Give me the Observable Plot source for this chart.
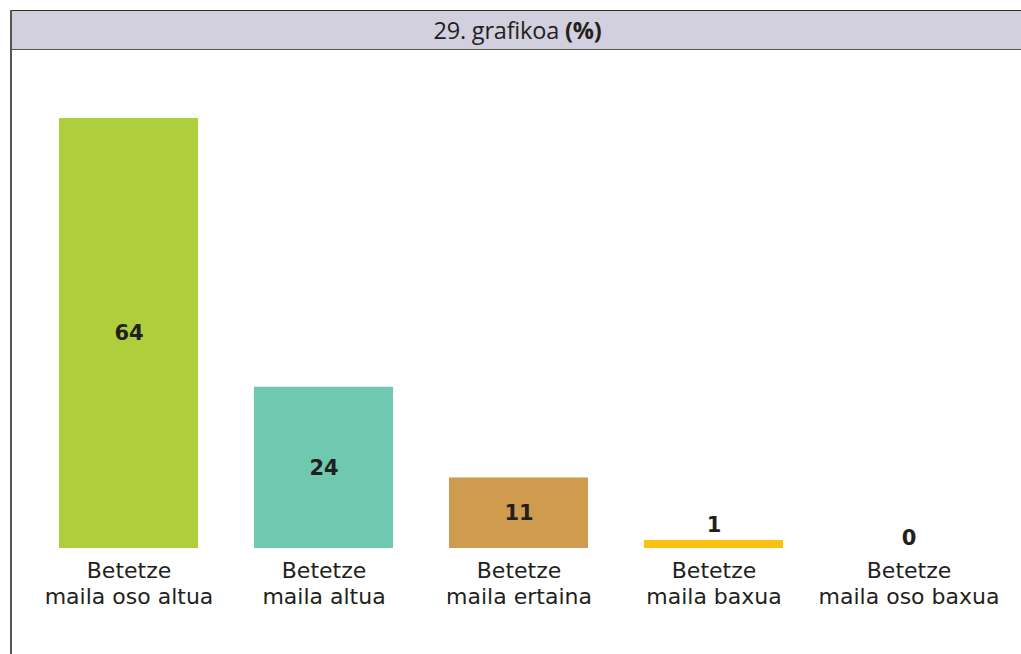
<!DOCTYPE html>
<html>
<head>
<meta charset="utf-8">
<script src="https://cdn.jsdelivr.net/npm/d3@7"></script>
<script src="https://cdn.jsdelivr.net/npm/@observablehq/plot@0.6"></script>
<style>
  html, body { margin: 0; padding: 0; background: #fff; width: 1021px; height: 654px; overflow: hidden; }
  #title {
    position: absolute; left: 10px; top: 10px; width: 1011px; height: 40px; box-sizing: border-box;
    background: #d2d0de; border-top: 1.5px solid #2e2e2e; border-bottom: 1.5px solid #555;
    display: flex; align-items: center; justify-content: center; padding-left: 4px;
    font-family: "Open Sans", sans-serif; font-size: 23.5px; color: #231f20; letter-spacing: -0.2px;
  }
  #title b { font-weight: 700; margin-left: 6px; }
  #leftline { position: absolute; left: 10px; top: 10px; height: 644px; width: 0; border-left: 2px solid #555; }
  #chart { position: absolute; left: 0; top: 50px; }
</style>
</head>
<body>
<div id="title"><span>29. grafikoa</span><b>(%)</b></div>
<div id="leftline"></div>
<div id="chart"></div>
<script>
const categories = ["Betetze maila oso altua", "Betetze maila altua", "Betetze maila ertaina", "Betetze maila baxua", "Betetze maila oso baxua"];
const categoryLines = ["Betetze\nmaila oso altua", "Betetze\nmaila altua", "Betetze\nmaila ertaina", "Betetze\nmaila baxua", "Betetze\nmaila oso baxua"];
const values = [64, 24, 10.5, 1.2, 0];
const valueLabels = ["64", "24", "11", "1", "0"];
const colors = ["#aecf3b", "#6fc8b0", "#cf9c4f", "#fcc010", "#cccccc"];

const data = categories.map((c, i) => ({cat: c, line: categoryLines[i], value: values[i], label: valueLabels[i]}));
const font = "'DejaVu Sans', 'Noto Sans', sans-serif";

const chart = Plot.plot({
  width: 1021,
  height: 604,
  marginTop: 0, marginBottom: 0, marginLeft: 0, marginRight: 0,
  style: {fontFamily: font, color: "#231f20", background: "transparent"},
  x: {domain: categories, range: [59, 979], paddingInner: 0.287, paddingOuter: 0, axis: null},
  y: {domain: [0, 64], range: [498, 68], axis: null},
  color: {domain: categories, range: colors},
  marks: [
    Plot.barY(data, {x: "cat", y: "value", fill: "cat"}),
    Plot.text(data.filter(d => d.value >= 5), {x: "cat", y: d => d.value / 2, text: "label", fontSize: 21, fontWeight: 700, fill: "#231f20"}),
    Plot.text(data.filter(d => d.value > 0 && d.value < 5), {x: "cat", y: "value", text: "label", fontSize: 21, fontWeight: 700, fill: "#231f20", dy: -15}),
    Plot.text(data.filter(d => d.value === 0), {x: "cat", y: "value", text: "label", fontSize: 21, fontWeight: 700, fill: "#231f20", dy: -10}),
    Plot.text(data, {x: "cat", y: 0, text: "line", lineAnchor: "top", dy: 11, lineHeight: 1.18, fontSize: 22, fill: "#231f20"})
  ]
});
document.getElementById("chart").appendChild(chart);
</script>
</body>
</html>
